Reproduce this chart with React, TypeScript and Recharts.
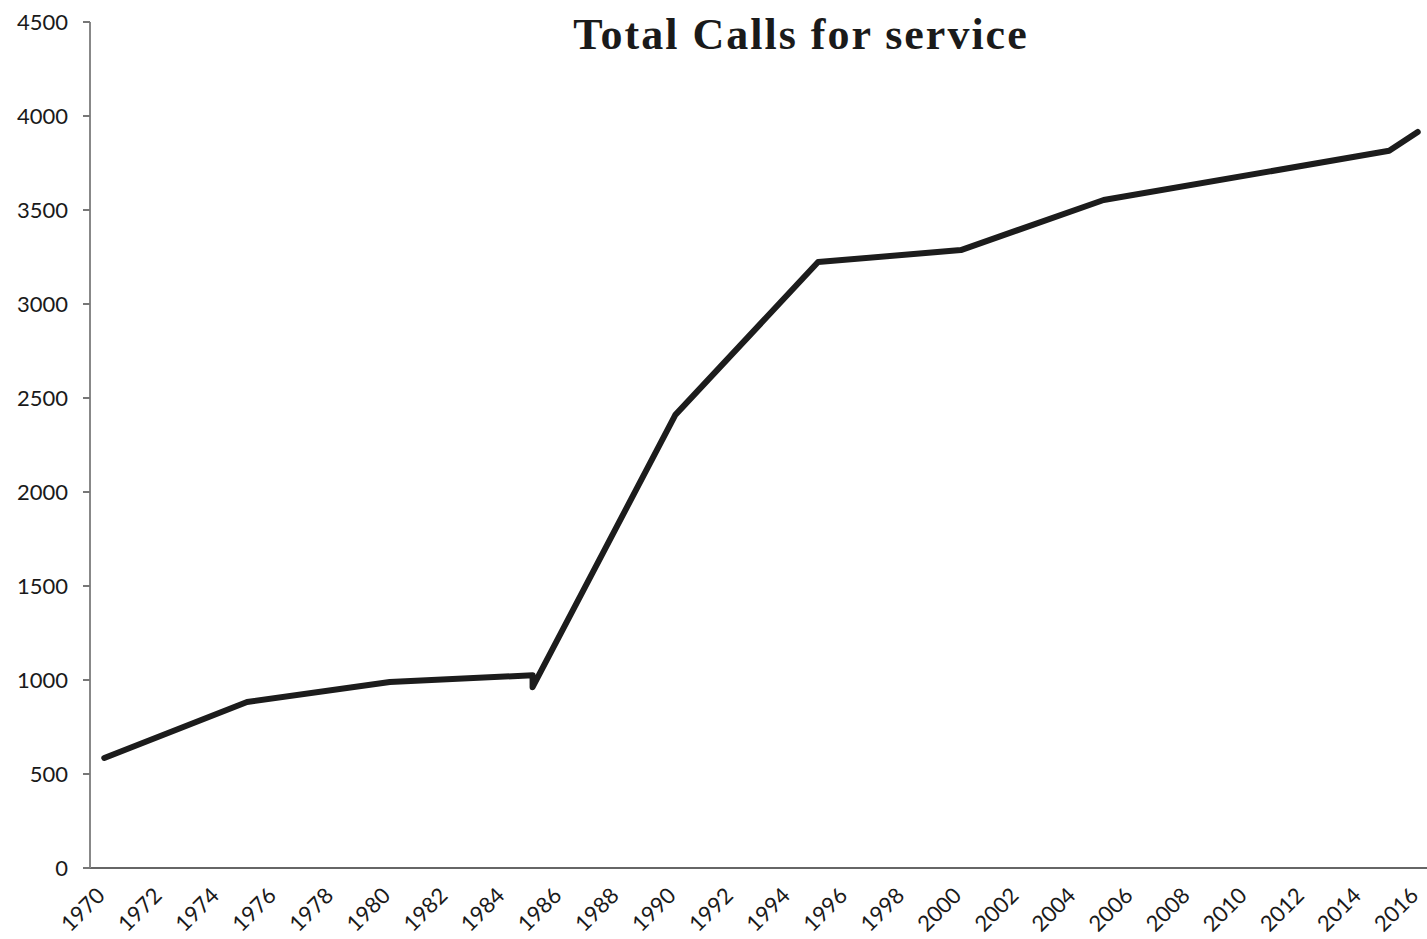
import React from 'react';
import { LineChart, Line, XAxis, YAxis } from 'recharts';

// Calls for service by year; 1985 has two readings (before/after the reporting change)
const YEARS = [1970, 1975, 1980, 1985, 1985, 1990, 1995, 2000, 2005, 2015, 2016];
const CALLS = [585, 883, 989, 1025, 962, 2410, 3223, 3287, 3553, 3815, 3915];

const Y_TICKS = [0, 500, 1000, 1500, 2000, 2500, 3000, 3500, 4000, 4500];
const YEAR_LABELS = Array.from({ length: 24 }, (_, i) => 1970 + i * 2);
const TICK_MARKS = YEAR_LABELS.map(y => y - 0.5);

const data = YEARS.map((year, i) => ({ year, calls: CALLS[i] }));

const tickFont = { fontFamily: 'Lato, "Open Sans", sans-serif', fontSize: 22, fill: '#1a1a1a' };

const YearTick = (props: any) => {
  const { x, y, payload } = props;
  const ax = x + 2;
  const ay = y + 21;
  return (
    <text x={ax} y={ay} textAnchor="end" transform={`rotate(-45, ${ax}, ${ay})`} style={tickFont}>
      {payload.value}
    </text>
  );
};

export default function App() {
  return (
    <div style={{ position: 'absolute', left: 0, top: 0, width: 1427, height: 939, overflow: 'hidden', background: '#fff' }}>
      <div
        style={{
          position: 'absolute',
          left: 0,
          width: 1602,
          top: 9,
          textAlign: 'center',
          fontFamily: '"Liberation Serif", serif',
          fontWeight: 'bold',
          fontSize: 44,
          letterSpacing: 2,
          color: '#1a1a1a',
          zIndex: 2,
        }}
      >
        Total Calls for service
      </div>
      <LineChart width={1432} height={939} data={data} margin={{ top: 22, right: 0, left: 0, bottom: 0 }}>
        {/* small marks between every second year, drawn on their own axis */}
        <XAxis
          xAxisId="marks"
          type="number"
          domain={[1969.5, 2016.5]}
          ticks={TICK_MARKS}
          interval={0}
          tick={false}
          tickLine={{ stroke: '#666', strokeWidth: 2 }}
          tickSize={7}
          axisLine={false}
          height={0}
        />
        <XAxis
          dataKey="year"
          type="number"
          domain={[1969.5, 2016.5]}
          ticks={YEAR_LABELS}
          interval={0}
          tickLine={false}
          axisLine={{ stroke: '#666', strokeWidth: 2 }}
          tick={<YearTick />}
          height={71}
        />
        <YAxis
          type="number"
          domain={[0, 4500]}
          ticks={Y_TICKS}
          interval={0}
          width={90}
          tickSize={7}
          tickMargin={15}
          tick={tickFont}
          tickLine={{ stroke: '#777', strokeWidth: 2 }}
          axisLine={{ stroke: '#888', strokeWidth: 2 }}
        />
        <Line
          dataKey="calls"
          type="linear"
          stroke="#1c1c1c"
          strokeWidth={6}
          strokeLinejoin="round"
          strokeLinecap="round"
          dot={false}
          activeDot={false}
          isAnimationActive={false}
        />
      </LineChart>
    </div>
  );
}
